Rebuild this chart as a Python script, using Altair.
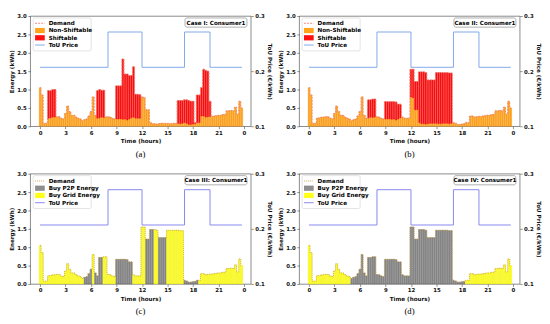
import altair as alt
import pandas as pd

# ---------------- data (15-minute slots, 96 per day) ----------------
hours = [i / 4 for i in range(96)]

non_shiftable = [
    1.05, 0.85, 0.08, 0.08,  0.22, 0.23, 0.25, 0.25,  0.26, 0.26, 0.22, 0.20,
    0.35, 0.55, 0.40, 0.30,  0.30, 0.25, 0.22, 0.20,  0.15, 0.18, 0.20, 0.28,
    0.40, 0.80, 0.30, 0.22,  0.23, 0.25, 0.24, 0.25,  0.26, 0.25, 0.22, 0.20,
    0.20, 0.20, 0.20, 0.19,  0.20, 0.17, 0.20, 0.23,  0.25, 0.22, 0.22, 0.22,
    0.80, 0.78, 0.45, 0.45,  0.10, 0.07, 0.07, 0.06,  0.07, 0.08, 0.08, 0.08,
    0.08, 0.07, 0.07, 0.08,  0.08, 0.08, 0.07, 0.08,  0.10, 0.08, 0.05, 0.05,
    0.06, 0.07, 0.10, 0.10,  0.28, 0.28, 0.25, 0.26,  0.27, 0.27, 0.28, 0.29,
    0.30, 0.30, 0.32, 0.32,  0.42, 0.42, 0.43, 0.42,  0.52, 0.33, 0.68, 0.50,
]

demand_case1 = [
    1.05, 0.85, 0.08, 0.08,  0.97, 0.97, 1.00, 1.00,  0.26, 0.26, 0.22, 0.20,
    0.35, 0.55, 0.40, 0.30,  0.30, 0.25, 0.22, 0.20,  0.15, 0.18, 0.20, 0.28,
    0.40, 0.80, 0.30, 0.97,  1.00, 0.98, 0.98, 0.25,  0.26, 0.25, 0.22, 0.20,
    1.10, 1.10, 1.10, 1.83,  1.42, 1.42, 1.38, 1.38,  1.62, 0.87, 0.87, 0.86,
    0.80, 0.78, 0.45, 0.45,  0.10, 0.07, 0.07, 0.06,  0.07, 0.08, 0.08, 0.08,
    0.08, 0.07, 0.07, 0.08,  0.08, 0.70, 0.70, 0.70,  0.72, 0.72, 0.70, 0.68,
    0.68, 0.10, 0.85, 0.85,  1.05, 1.55, 1.52, 1.50,  0.68, 0.27, 0.28, 0.29,
    0.30, 0.30, 0.32, 0.32,  0.42, 0.42, 0.43, 0.42,  0.52, 0.33, 0.68, 0.50,
]

demand_case2 = [
    1.05, 0.85, 0.08, 0.08,  0.22, 0.23, 0.25, 0.25,  0.26, 0.26, 0.22, 0.20,
    0.35, 0.55, 0.40, 0.30,  0.30, 0.25, 0.22, 0.20,  0.15, 0.18, 0.20, 0.28,
    0.40, 0.80, 0.30, 0.22,  0.72, 0.72, 0.74, 0.74,  0.26, 0.25, 0.22, 0.20,
    0.67, 0.67, 0.67, 0.67,  0.67, 0.66, 0.60, 0.60,  0.25, 0.22, 0.22, 0.22,
    1.55, 1.55, 1.22, 1.22,  1.48, 1.48, 1.48, 1.46,  1.26, 1.26, 1.26, 1.26,
    1.46, 1.46, 1.46, 1.46,  1.46, 1.46, 1.45, 1.45,  0.10, 0.08, 0.05, 0.05,
    0.06, 0.07, 0.10, 0.10,  0.28, 0.28, 0.25, 0.26,  0.27, 0.27, 0.28, 0.29,
    0.30, 0.30, 0.32, 0.32,  0.42, 0.42, 0.43, 0.42,  0.52, 0.33, 0.68, 0.50,
]

# energy bought from peers (rest of the demand is bought from the grid)
p2p_case3 = [
    0.00, 0.00, 0.00, 0.00,  0.00, 0.00, 0.00, 0.00,  0.00, 0.00, 0.00, 0.00,
    0.00, 0.00, 0.00, 0.00,  0.00, 0.00, 0.00, 0.00,  0.00, 0.18, 0.20, 0.28,
    0.40, 0.00, 0.30, 0.22,  0.72, 0.72, 0.00, 0.00,  0.00, 0.00, 0.00, 0.00,
    0.67, 0.67, 0.67, 0.67,  0.67, 0.66, 0.60, 0.60,  0.00, 0.00, 0.00, 0.00,
    0.00, 0.00, 1.22, 1.22,  1.48, 1.48, 0.00, 0.00,  1.26, 1.26, 1.26, 1.26,
    0.00, 0.00, 0.00, 0.00,  0.00, 0.00, 0.00, 0.00,  0.10, 0.08, 0.05, 0.05,
    0.06, 0.07, 0.10, 0.00,  0.00, 0.00, 0.00, 0.00,  0.00, 0.00, 0.00, 0.00,
    0.00, 0.00, 0.00, 0.00,  0.00, 0.00, 0.00, 0.00,  0.00, 0.00, 0.00, 0.00,
]

p2p_case4 = [
    0.00, 0.00, 0.00, 0.00,  0.00, 0.00, 0.00, 0.00,  0.00, 0.00, 0.00, 0.00,
    0.00, 0.00, 0.00, 0.00,  0.00, 0.00, 0.00, 0.00,  0.15, 0.18, 0.20, 0.28,
    0.40, 0.80, 0.30, 0.22,  0.72, 0.72, 0.74, 0.74,  0.26, 0.25, 0.22, 0.20,
    0.67, 0.67, 0.67, 0.67,  0.67, 0.66, 0.60, 0.60,  0.25, 0.22, 0.22, 0.22,
    1.55, 1.55, 1.22, 1.22,  1.48, 1.48, 1.48, 1.46,  1.26, 1.26, 1.26, 1.26,
    1.46, 1.46, 1.46, 1.46,  1.46, 1.46, 1.45, 1.45,  0.10, 0.08, 0.05, 0.05,
    0.06, 0.07, 0.00, 0.00,  0.00, 0.00, 0.00, 0.00,  0.00, 0.00, 0.00, 0.00,
    0.00, 0.00, 0.00, 0.00,  0.00, 0.00, 0.00, 0.00,  0.00, 0.00, 0.00, 0.00,
]

tou_hours = [0, 8, 12, 17, 20, 23.75]
tou_price = [0.207, 0.271, 0.207, 0.271, 0.207, 0.207]

x_ticks = [0, 3, 6, 9, 12, 15, 18, 21, 24]
energy_ticks = [0.0, 0.5, 1.0, 1.5, 2.0, 2.5, 3.0]
price_ticks = [0.1, 0.2, 0.3]

panel_titles = ["Case I: Consumer1", "Case II: Consumer1",
                "Case III: Consumer1", "Case IV: Consumer1"]
captions = ["(a)", "(b)", "(c)", "(d)"]
load_names = ["Non-Shiftable", "Shiftable"]
trade_names = ["Buy P2P Energy", "Buy Grid Energy"]

# ---------------- style ----------------
W, H = 228, 114
HALF = 0.095
X_DOMAIN = [-1.15, 24.8]
FONT = "DejaVu Sans"

C_NS, C_SH = "#FFA31A", "#FF1010"
C_P2P, C_GRID = "#8E8E8E", "#FFFF1A"
S_NS, S_SH, S_P2P, S_GRID = "#F08A00", "#E00000", "#505050", "#E8E800"
C_DEM_AB, C_DEM_CD = "#F07A6A", "#C89B3C"
C_TOU_AB, C_TOU_CD = "#7EA6E8", "#8585F0"

one = pd.DataFrame({"k": [0]})


def x_enc(field):
    return alt.X(
        f"{field}:Q",
        scale=alt.Scale(domain=X_DOMAIN, nice=False, zero=False),
        axis=alt.Axis(values=x_ticks, title="Time (hours)",
                      labelExpr="datum.value == 24 ? '0' : datum.value"),
    )


def stacked(lower_vals, upper_vals, name, fill, stroke):
    return pd.DataFrame({
        "h0": [h - HALF for h in hours],
        "h1": [h + HALF for h in hours],
        "y0": list(lower_vals),
        "y1": list(upper_vals),
        "series": name,
        "fill": fill,
        "edge": stroke,
    })


def panel(parts, names, fills, strokes, demand, dem_color, tou_color, title, caption, dem_dash):
    frames = []
    for (lo, hi), nm, fc, sc in zip(parts, names, fills, strokes):
        frames.append(stacked(lo, hi, nm, fc, sc))
    bars_df = pd.concat(frames, ignore_index=True)
    bars_df = bars_df[bars_df["y1"] > bars_df["y0"] + 1e-9]

    yax = alt.Axis(values=energy_ticks, format=".1f", title="Energy (kWh)", orient="left")
    bars = alt.Chart(bars_df).mark_bar(strokeWidth=0.35).encode(
        x=x_enc("h0"), x2="h1:Q",
        y=alt.Y("y0:Q", scale=alt.Scale(domain=[0, 3], nice=False), axis=yax),
        y2="y1:Q",
        fill=alt.Fill("fill:N", scale=None),
        stroke=alt.Stroke("edge:N", scale=None),
    )
    dem_df = pd.DataFrame({"h": hours, "d": demand})
    dem = alt.Chart(dem_df).mark_line(interpolate="step", strokeDash=dem_dash,
                                      strokeWidth=0.8, color=dem_color).encode(
        x=x_enc("h"),
        y=alt.Y("d:Q", scale=alt.Scale(domain=[0, 3], nice=False), axis=yax),
    )
    tou_df = pd.DataFrame({"h": tou_hours, "p": tou_price})
    tou = alt.Chart(tou_df).mark_line(interpolate="step-after", strokeWidth=1.0,
                                      color=tou_color).encode(
        x=x_enc("h"),
        y=alt.Y("p:Q", scale=alt.Scale(domain=[0.1, 0.3], nice=False, zero=False),
                axis=alt.Axis(values=price_ticks, format=".1f", orient="right",
                              title="ToU Price (€/kWh)")),
    )

    # legend drawn inside the plot (upper left)
    entries = [("Demand", "dash", dem_color), (names[0], "box", fills[0]),
               (names[1], "box", fills[1]), ("ToU Price", "line", tou_color)]
    leg = [alt.Chart(one).mark_rect(fill="white", stroke="#cccccc", strokeWidth=0.6,
                                    cornerRadius=1.5, opacity=0.9).encode(
        x=alt.value(3), x2=alt.value(63), y=alt.value(2), y2=alt.value(36))]
    for i, (lab, kind, col) in enumerate(entries):
        yc = 7.5 + i * 7.5
        if kind == "dash":
            leg.append(alt.Chart(one).mark_rule(color=col, strokeWidth=0.9, strokeDash=dem_dash).encode(
                x=alt.value(5), x2=alt.value(15), y=alt.value(yc)))
        elif kind == "line":
            leg.append(alt.Chart(one).mark_rule(color=col, strokeWidth=1).encode(
                x=alt.value(5), x2=alt.value(15), y=alt.value(yc)))
        else:
            leg.append(alt.Chart(one).mark_rect(color=col).encode(
                x=alt.value(5), x2=alt.value(15), y=alt.value(yc - 2.7), y2=alt.value(yc + 2.7)))
        leg.append(alt.Chart(one).mark_text(text=lab, align="left", baseline="middle", fontSize=5.8,
                                            fontWeight="bold", font=FONT).encode(
            x=alt.value(19), y=alt.value(yc)))
    leg.append(alt.Chart(one).mark_rect(fill="white", stroke="#777777", strokeWidth=0.6,
                                        cornerRadius=2).encode(
        x=alt.value(W - 68), x2=alt.value(W - 4), y=alt.value(2), y2=alt.value(11.5)))
    leg.append(alt.Chart(one).mark_text(text=title, align="center", baseline="middle", fontSize=5.8,
                                        fontWeight="bold", font=FONT).encode(
        x=alt.value(W - 36), y=alt.value(6.9)))

    return alt.layer(
        alt.layer(bars, dem), tou, alt.layer(*leg)
    ).resolve_scale(y="independent").properties(
        width=W, height=H,
        title=alt.TitleParams(caption, orient="bottom", font="Liberation Serif", fontSize=9,
                              fontWeight="normal", anchor="middle", frame="group", offset=7),
    )


zeros = [0.0] * 96

pa = panel([(zeros, non_shiftable), (non_shiftable, demand_case1)], load_names,
           [C_NS, C_SH], [S_NS, S_SH], demand_case1, C_DEM_AB, C_TOU_AB,
           panel_titles[0], captions[0], [2, 1.2])
pb = panel([(zeros, non_shiftable), (non_shiftable, demand_case2)], load_names,
           [C_NS, C_SH], [S_NS, S_SH], demand_case2, C_DEM_AB, C_TOU_AB,
           panel_titles[1], captions[1], [2, 1.2])
pc = panel([(zeros, p2p_case3), (p2p_case3, demand_case2)], trade_names,
           [C_P2P, C_GRID], [S_P2P, S_GRID], demand_case2, C_DEM_CD, C_TOU_CD,
           panel_titles[2], captions[2], [1, 1])
pd_ = panel([(zeros, p2p_case4), (p2p_case4, demand_case2)], trade_names,
            [C_P2P, C_GRID], [S_P2P, S_GRID], demand_case2, C_DEM_CD, C_TOU_CD,
            panel_titles[3], captions[3], [1, 1])

chart = alt.vconcat(
    alt.hconcat(pa, pb, spacing=4),
    alt.hconcat(pc, pd_, spacing=4),
    spacing=12,
).configure(font=FONT, padding=0).configure_view(
    stroke="#555555", strokeWidth=0.7
).configure_axis(
    labelFont=FONT, labelFontSize=5.6, labelFontWeight="bold", labelColor="#111111",
    titleFont=FONT, titleFontSize=5.8, titleFontWeight="bold", titleColor="#111111",
    tickSize=2.5, tickColor="#444444", tickWidth=0.6, domain=False, grid=False,
    labelPadding=1.5, titlePadding=2,
)

chart.save("out.html", embed_options={"renderer": "svg", "actions": False})
